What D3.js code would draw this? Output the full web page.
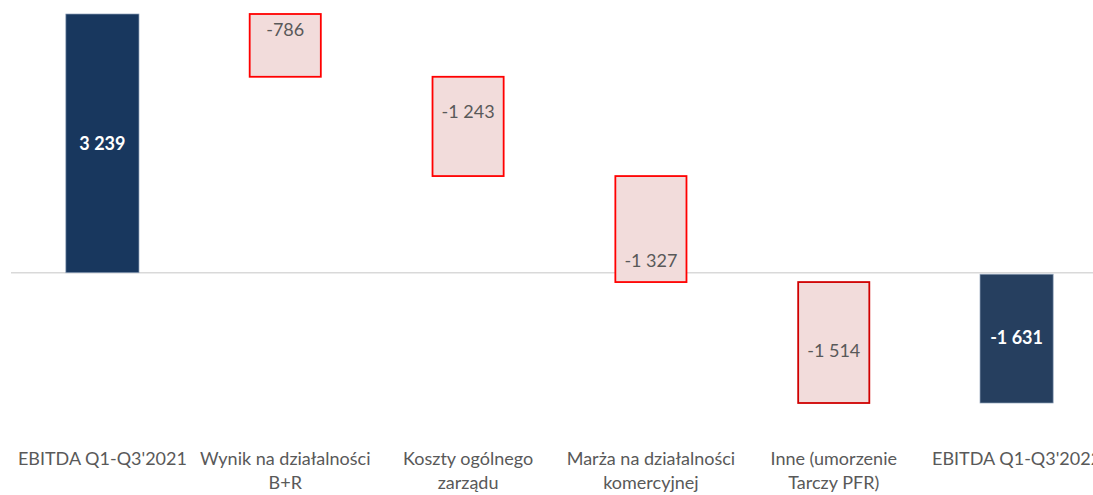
<!DOCTYPE html>
<html>
<head>
<meta charset="utf-8">
<script src="https://cdn.jsdelivr.net/npm/d3@7"></script>
<style>
  body { margin: 0; background: #fff; }
  svg { display: block; font-family: Lato, "Open Sans", sans-serif; }
  .catLabel { fill: #595959; font-size: 18px; }
  .valLabel { font-size: 18px; }
</style>
</head>
<body>
<svg id="waterfall"></svg>
<script>
"use strict";

const width = 1093;
const height = 495;

// chart data
const categories = [
    "EBITDA Q1-Q3'2021",
    "Wynik na działalności\nB+R",
    "Koszty ogólnego\nzarządu",
    "Marża na działalności\nkomercyjnej",
    "Inne (umorzenie\nTarczy PFR)",
    "EBITDA Q1-Q3'2022"
];
const values = [3239, -786, -1243, -1327, -1514, -1631];
const isTotal = [true, false, false, false, false, true];
const valueLabels = ["3 239", "-786", "-1 243", "-1 327", "-1 514", "-1 631"];

// where the label sits inside each box (0 = top, 1 = bottom)
const labelAnchor = [0.5, 0.25, 0.35, 0.8, 0.57, 0.5];

const totalColors = ["#18375e", "#263f5f"];

const xScale = d3.scaleBand()
    .domain(categories)
    .range([11, 1108])
    .paddingInner(0.6)
    .paddingOuter(0.3);

const yScale = d3.scaleLinear()
    .domain([-1631, 3239])
    .range([403, 14]);

// build start / end of each step
let running = 0;
const steps = categories.map((c, i) => {
    let start, end;
    if (isTotal[i]) {
        start = 0;
        end = values[i];
        running = values[i];
    } else {
        start = running;
        end = running + values[i];
        running = end;
    }
    return { cat: c, start: start, end: end, total: isTotal[i], label: valueLabels[i], anchor: labelAnchor[i], idx: i };
});

const svg = d3.select("svg#waterfall")
    .attr("width", width)
    .attr("height", height);

// zero line
svg.append("line")
    .attr("x1", 11)
    .attr("x2", width)
    .attr("y1", yScale(0))
    .attr("y2", yScale(0))
    .attr("stroke", "#d9d9d9")
    .attr("stroke-width", 1.5);

const boxes = svg.selectAll("g.step")
    .data(steps)
    .enter()
    .append("g")
    .attr("class", "step");

boxes.append("rect")
    .attr("x", d => d.total ? xScale(d.cat) : xScale(d.cat) + 1)
    .attr("width", d => d.total ? xScale.bandwidth() : xScale.bandwidth() - 2)
    .attr("y", d => yScale(Math.max(d.start, d.end)) + (d.total && d.end < 0 ? 1.5 : 0))
    .attr("height", d => Math.abs(yScale(d.start) - yScale(d.end)) - (d.total && d.end < 0 ? 1.5 : 0))
    .attr("fill", d => d.total ? (d.idx === 0 ? totalColors[0] : totalColors[1]) : "#f2dcdb")
    .attr("stroke", d => d.total ? "#8ea0b8" : (d.idx === 4 ? "#d00000" : "#ff0000"))
    .attr("stroke-width", d => d.total ? 0.7 : 1.8);

boxes.append("text")
    .attr("class", "valLabel")
    .attr("x", d => xScale(d.cat) + xScale.bandwidth() / 2)
    .attr("y", d => {
        let top = yScale(Math.max(d.start, d.end));
        let bottom = yScale(Math.min(d.start, d.end));
        return top + (bottom - top) * d.anchor;
    })
    .attr("dy", "0.35em")
    .attr("text-anchor", "middle")
    .attr("fill", d => d.total ? "#ffffff" : "#595959")
    .attr("font-weight", d => d.total ? "bold" : "normal")
    .text(d => d.label);

// category axis labels
const xAxis = svg.append("g").attr("class", "xAxis");
categories.forEach(c => {
    let lines = c.split("\n");
    let t = xAxis.append("text")
        .attr("class", "catLabel")
        .attr("text-anchor", "middle")
        .attr("x", xScale(c) + xScale.bandwidth() / 2)
        .attr("y", 465);
    lines.forEach((ln, j) => {
        t.append("tspan")
            .attr("x", xScale(c) + xScale.bandwidth() / 2)
            .attr("dy", j === 0 ? 0 : 24)
            .text(ln);
    });
});
</script>
</body>
</html>
